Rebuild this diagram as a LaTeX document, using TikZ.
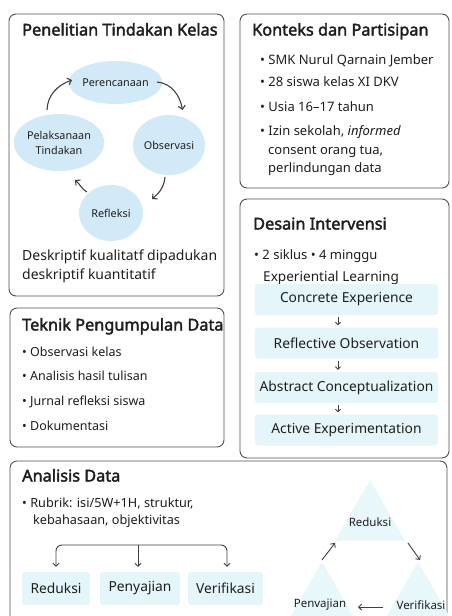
\documentclass[tikz,border=0pt]{standalone}
\usepackage{fontspec}
\setmainfont{Noto Sans}[BoldFont={Noto Sans}, BoldFeatures={FakeBold=2.2}]
\usetikzlibrary{arrows.meta,shapes.geometric}
\definecolor{ink}{HTML}{1E1E1E}
\definecolor{frame}{HTML}{505050}
\definecolor{cycfill}{HTML}{D2EAF8}
\definecolor{pale}{HTML}{E4F6FA}
\definecolor{trifill}{HTML}{E8F8FA}
\begin{document}
\begin{tikzpicture}[x=1pt,y=-1pt,
  panel/.style={draw=frame, line width=0.9pt, rounded corners=7pt, fill=white, inner sep=0},
  ttl/.style={anchor=west, inner sep=0, text=ink, font=\fontsize{16.3}{18}\selectfont\bfseries, text height=0.72em, text depth=0.22em},
  txt/.style={anchor=west, inner sep=0, text=ink, font=\fontsize{13}{15}\selectfont, text height=0.72em, text depth=0.22em},
  cyc/.style={ellipse, fill=cycfill, inner sep=0, text=ink, align=center, font=\fontsize{10.8}{15}\selectfont},
  palebox/.style={fill=pale, rounded corners=3pt, inner sep=0, text=ink, font=\fontsize{13.8}{15}\selectfont},
  tri/.style={regular polygon, regular polygon sides=3, minimum size=80.8pt, inner sep=0, outer sep=0, fill=trifill},
  trilab/.style={inner sep=0, text=ink, font=\fontsize{11.5}{13}\selectfont},
  cycarr/.style={draw=ink!85, line width=1.1pt, -{Straight Barb[length=3.5pt,width=7pt]}},
  thinarr/.style={draw=ink!85, line width=0.9pt, -{Straight Barb[length=3pt,width=6pt]}},
  downarr/.style={draw=ink!85, line width=0.8pt, -{Straight Barb[length=2.5pt,width=5pt]}, shorten <=2pt, shorten >=2pt},
]
\useasboundingbox (0,0) rectangle (451,616);
\fill[white] (0,0) rectangle (451,616);

% ---------- Panel 1: Penelitian Tindakan Kelas
\node[panel, minimum width=215pt, minimum height=282pt] (b1) at (116.5,155) {};
\node[ttl] (t1) at (22,33) {Penelitian Tindakan Kelas};
\node[cyc, minimum width=77pt, minimum height=43pt] (pr) at (115.5,82.5) {Perencanaan};
\node[cyc, minimum width=72pt, minimum height=60pt] (ob) at (169,145) {Observasi};
\node[cyc, minimum width=64pt, minimum height=56pt] (rf) at (111,213) {Refleksi};
\node[cyc, minimum width=74pt, minimum height=57pt] (pl) at (59,142.5) {Pelaksanaan\\Tindakan};
\coordinate (a1s) at (47,110); \coordinate (a1e) at (72,80);
\coordinate (a2s) at (157,82); \coordinate (a2e) at (182.5,110);
\coordinate (a3s) at (165,177); \coordinate (a3e) at (152,199);
\coordinate (a4s) at (87,192); \coordinate (a4e) at (75,180);
\draw[cycarr] (a1s) to[out=88,in=200] (a1e);
\draw[cycarr] (a2s) to[out=-5,in=100] (a2e);
\draw[cycarr] (a3s) to[out=-95,in=40] (a3e);
\draw[cycarr] (a4s) to[out=150,in=-40] (a4e);
\node[txt, font=\fontsize{14}{16}\selectfont] (d1) at (22,258) {Deskriptif kualitatf dipadukan};
\node[txt, font=\fontsize{14}{16}\selectfont] (d2) at (22,277) {deskriptif kuantitatif};

% ---------- Panel 2: Konteks dan Partisipan
\node[panel, minimum width=209pt, minimum height=174pt] (b2) at (344.5,101) {};
\node[ttl] (t2) at (252,33) {Konteks dan Partisipan};
\node[txt] (k1) at (260,62) {• SMK Nurul Qarnain Jember};
\node[txt] (k2) at (260,84) {• 28 siswa kelas XI DKV};
\node[txt] (k3) at (260,109) {• Usia 16–17 tahun};
\node[txt] (k4) at (260,133) {• Izin sekolah, \textit{informed}};
\node[txt] (k5) at (268,152) {consent orang tua,};
\node[txt] (k6) at (268,170) {perlindungan data};

% ---------- Panel 3: Desain Intervensi
\node[panel, minimum width=209pt, minimum height=259pt] (b3) at (344.5,328.5) {};
\node[ttl] (t3) at (253,227) {Desain Intervensi};
\node[txt] (s1) at (254,257) {• 2 siklus • 4 minggu};
\node[txt, font=\fontsize{13.6}{15}\selectfont] (s2) at (263,279) {Experiential Learning};
\node[palebox, minimum width=183pt, minimum height=31pt] (ce) at (346.5,299.5) {Concrete Experience};
\node[palebox, minimum width=183pt, minimum height=31pt] (ro) at (346.5,343) {Reflective Observation};
\node[palebox, minimum width=183pt, minimum height=31pt] (ac) at (346.5,387.5) {Abstract Conceptualization};
\node[palebox, minimum width=183pt, minimum height=31pt] (ae) at (346.5,430) {Active Experimentation};
\draw[downarr] ([xshift=-8.5pt]ce.south) -- ([xshift=-8.5pt]ro.north);
\draw[downarr] ([xshift=-8.5pt]ro.south) -- ([xshift=-8.5pt]ac.north);
\draw[downarr] ([xshift=-8.5pt]ac.south) -- ([xshift=-8.5pt]ae.north);

% ---------- Panel 4: Teknik Pengumpulan Data
\node[panel, minimum width=214pt, minimum height=139pt] (b4) at (117,377.5) {};
\node[ttl] (t4) at (22,328) {Teknik Pengumpulan Data};
\node[txt, font=\fontsize{12.5}{15}\selectfont] (p1) at (22,354) {• Observasi kelas};
\node[txt, font=\fontsize{12.5}{15}\selectfont] (p2) at (22,378) {• Analisis hasil tulisan};
\node[txt, font=\fontsize{12.5}{15}\selectfont] (p3) at (22,403) {• Jurnal refleksi siswa};
\node[txt, font=\fontsize{12.5}{15}\selectfont] (p4) at (22,428) {• Dokumentasi};

% ---------- Panel 5: Analisis Data
\node[panel, minimum width=437pt, minimum height=179pt] (b5) at (228.5,550.5) {};
\node[ttl] (t5) at (22,479) {Analisis Data};
\node[txt, font=\fontsize{12.7}{15}\selectfont] (r1) at (22,505) {• Rubrik: isi/5W+1H, struktur,};
\node[txt, font=\fontsize{12.7}{15}\selectfont] (r2) at (33,522) {kebahasaan, objektivitas};
\node[palebox, minimum width=68pt, minimum height=33pt] (rd) at (56,588.5) {Reduksi};
\node[palebox, minimum width=80pt, minimum height=33pt] (py) at (140,588.5) {Penyajian};
\node[palebox, minimum width=75pt, minimum height=33pt] (vf) at (225.5,588.5) {Verifikasi};
\coordinate (brk) at (138,545);
\draw[thinarr, rounded corners=6pt, shorten >=5pt] (brk) -| (rd.north);
\draw[thinarr, shorten >=5pt] (brk) -- (brk |- py.north);
\draw[thinarr, rounded corners=6pt, shorten >=5pt] (brk) -| ([xshift=1.5pt]vf.north);

% triangles
\node[tri] (tr1) at (370,520.4) {};
\node[tri] (tr2) at (322,602.4) {};
\node[tri] (tr3) at (418,602.4) {};
\node[trilab] (l1) at (370,522) {Reduksi};
\node[trilab] (l2) at (320,605) {Penvajian};
\node[trilab] (l3) at (421,605) {Verifikasi};
\coordinate (g1s) at (322,560); \coordinate (g1e) at (335,543);
\coordinate (g2s) at (408,543); \coordinate (g2e) at (420,560);
\coordinate (g3s) at (383,607); \coordinate (g3e) at (358,607);
\draw[thinarr] (g1s) -- (g1e);
\draw[thinarr] (g2s) -- (g2e);
\draw[thinarr] (g3s) -- (g3e);
\end{tikzpicture}
\end{document}
